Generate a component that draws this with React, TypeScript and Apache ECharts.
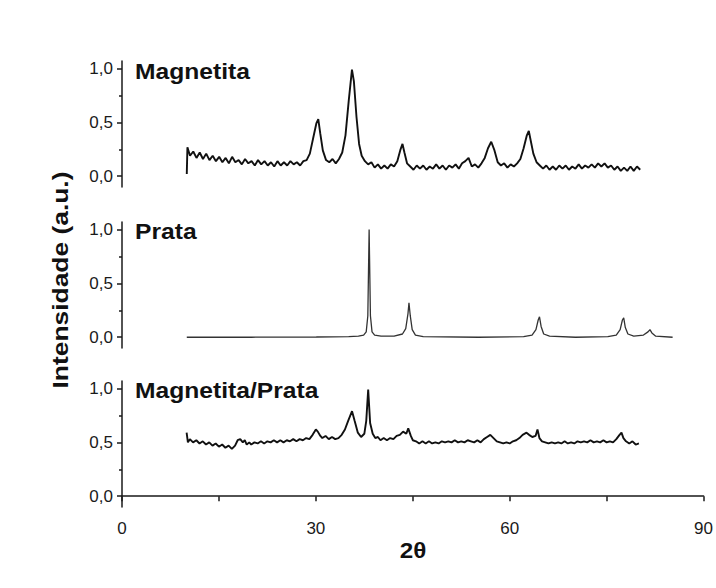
import React, { useEffect, useRef } from "react";
import * as echarts from "echarts";

// 2θ (degrees), normalized intensity
const magnetita: [number, number][] = [
  [10.0, 0.02], [10.1, 0.27], [10.5, 0.19], [11.0, 0.23], [11.5, 0.17], [12.0, 0.22], [12.5, 0.16],
  [13.0, 0.21], [13.5, 0.15], [14.0, 0.19], [14.5, 0.14], [15.0, 0.18], [15.5, 0.13], [16.0, 0.17],
  [16.5, 0.12], [17.0, 0.18], [17.5, 0.13], [18.0, 0.15], [18.5, 0.11], [19.0, 0.16], [19.5, 0.12],
  [20.0, 0.14], [20.5, 0.10], [21.0, 0.15], [21.5, 0.11], [22.0, 0.14], [22.5, 0.10], [23.0, 0.13],
  [23.5, 0.09], [24.0, 0.14], [24.5, 0.10], [25.0, 0.13], [25.5, 0.10], [26.0, 0.14], [26.5, 0.11],
  [27.0, 0.13], [27.5, 0.10], [28.0, 0.14], [28.5, 0.15], [29.0, 0.21], [29.5, 0.35], [30.0, 0.49],
  [30.3, 0.53], [30.6, 0.40], [31.0, 0.24], [31.5, 0.15], [32.0, 0.13], [32.5, 0.16], [33.0, 0.12],
  [33.5, 0.16], [34.0, 0.22], [34.5, 0.38], [35.0, 0.70], [35.5, 0.99], [35.8, 0.88], [36.2, 0.55],
  [36.6, 0.30], [37.0, 0.19], [37.5, 0.14], [38.0, 0.11], [38.5, 0.13], [39.0, 0.08], [39.5, 0.11],
  [40.0, 0.07], [40.5, 0.10], [41.0, 0.07], [41.5, 0.11], [42.0, 0.09], [42.5, 0.14], [43.0, 0.25],
  [43.3, 0.30], [43.6, 0.22], [44.0, 0.12], [44.5, 0.09], [45.0, 0.06], [45.5, 0.10], [46.0, 0.07],
  [46.5, 0.10], [47.0, 0.06], [47.5, 0.09], [48.0, 0.07], [48.5, 0.11], [49.0, 0.07], [49.5, 0.10],
  [50.0, 0.06], [50.5, 0.10], [51.0, 0.08], [51.5, 0.11], [52.0, 0.07], [52.5, 0.12], [53.0, 0.14],
  [53.5, 0.17], [54.0, 0.09], [54.5, 0.11], [55.0, 0.08], [55.5, 0.12], [56.0, 0.17], [56.5, 0.26],
  [57.0, 0.32], [57.5, 0.24], [58.0, 0.13], [58.5, 0.10], [59.0, 0.12], [59.5, 0.08], [60.0, 0.11],
  [60.5, 0.09], [61.0, 0.12], [61.5, 0.16], [62.0, 0.26], [62.5, 0.38], [62.8, 0.42], [63.1, 0.33],
  [63.5, 0.21], [64.0, 0.13], [64.5, 0.10], [65.0, 0.07], [65.5, 0.10], [66.0, 0.06], [66.5, 0.09],
  [67.0, 0.06], [67.5, 0.10], [68.0, 0.07], [68.5, 0.10], [69.0, 0.06], [69.5, 0.09], [70.0, 0.07],
  [70.5, 0.11], [71.0, 0.07], [71.5, 0.10], [72.0, 0.08], [72.5, 0.11], [73.0, 0.08], [73.5, 0.12],
  [74.0, 0.09], [74.5, 0.12], [75.0, 0.08], [75.5, 0.10], [76.0, 0.06], [76.5, 0.09], [77.0, 0.05],
  [77.5, 0.08], [78.0, 0.05], [78.5, 0.09], [79.0, 0.05], [79.5, 0.09], [80.0, 0.06],
];

const prata: [number, number][] = [
  [10.0, 0.0], [20.0, 0.0], [30.0, 0.002], [35.0, 0.005], [36.5, 0.01], [37.3, 0.02], [37.7, 0.05],
  [37.95, 0.2], [38.15, 1.0], [38.35, 0.2], [38.6, 0.05], [39.0, 0.02], [40.0, 0.01], [42.0, 0.01],
  [43.3, 0.03], [43.8, 0.08], [44.15, 0.22], [44.3, 0.32], [44.5, 0.2], [44.8, 0.07], [45.3, 0.02],
  [46.5, 0.005], [55.0, 0.0], [62.0, 0.005], [63.3, 0.02], [63.9, 0.07], [64.25, 0.16], [64.45, 0.19],
  [64.7, 0.1], [65.1, 0.03], [66.0, 0.01], [70.0, 0.0], [75.0, 0.005], [76.3, 0.02], [76.9, 0.07],
  [77.25, 0.16], [77.45, 0.18], [77.7, 0.09], [78.1, 0.03], [79.0, 0.01], [80.5, 0.02], [81.2, 0.05],
  [81.5, 0.07], [81.8, 0.04], [82.4, 0.01], [85.0, 0.0],
];

const magnetitaPrata: [number, number][] = [
  [10.0, 0.59], [10.2, 0.50], [10.5, 0.53], [11.0, 0.50], [11.5, 0.52], [12.0, 0.49], [12.5, 0.51],
  [13.0, 0.48], [13.5, 0.50], [14.0, 0.47], [14.5, 0.49], [15.0, 0.46], [15.5, 0.48], [16.0, 0.45],
  [16.5, 0.47], [17.0, 0.44], [17.5, 0.47], [17.9, 0.52], [18.3, 0.53], [18.7, 0.50], [19.0, 0.52],
  [19.3, 0.48], [19.7, 0.50], [20.0, 0.48], [20.5, 0.50], [21.0, 0.49], [21.5, 0.51], [22.0, 0.49],
  [22.5, 0.51], [23.0, 0.50], [23.5, 0.52], [24.0, 0.50], [24.5, 0.52], [25.0, 0.50], [25.5, 0.52],
  [26.0, 0.51], [26.5, 0.53], [27.0, 0.51], [27.5, 0.53], [28.0, 0.52], [28.5, 0.54], [29.0, 0.53],
  [29.5, 0.57], [30.0, 0.62], [30.3, 0.60], [30.7, 0.56], [31.0, 0.54], [31.5, 0.56], [32.0, 0.53],
  [32.5, 0.55], [33.0, 0.53], [33.5, 0.54], [34.0, 0.57], [34.5, 0.62], [35.0, 0.70], [35.6, 0.79],
  [36.0, 0.70], [36.5, 0.59], [37.0, 0.55], [37.5, 0.58], [37.8, 0.70], [38.1, 0.99], [38.4, 0.68],
  [38.8, 0.58], [39.2, 0.54], [39.6, 0.55], [40.0, 0.52], [40.5, 0.54], [41.0, 0.52], [41.5, 0.54],
  [42.0, 0.53], [42.5, 0.56], [43.0, 0.57], [43.5, 0.60], [44.0, 0.58], [44.3, 0.63], [44.7, 0.56],
  [45.0, 0.52], [45.5, 0.51], [46.0, 0.49], [46.5, 0.51], [47.0, 0.49], [47.5, 0.51], [48.0, 0.49],
  [48.5, 0.50], [49.0, 0.49], [49.5, 0.51], [50.0, 0.50], [50.5, 0.51], [51.0, 0.50], [51.5, 0.52],
  [52.0, 0.50], [52.5, 0.51], [53.0, 0.50], [53.5, 0.52], [54.0, 0.51], [54.5, 0.50], [55.0, 0.52],
  [55.5, 0.50], [56.0, 0.53], [56.5, 0.55], [57.0, 0.57], [57.5, 0.54], [58.0, 0.51], [58.5, 0.50],
  [59.0, 0.49], [59.5, 0.50], [60.0, 0.49], [60.5, 0.51], [61.0, 0.52], [61.5, 0.54], [62.0, 0.57],
  [62.6, 0.59], [63.0, 0.57], [63.5, 0.55], [64.0, 0.56], [64.3, 0.62], [64.6, 0.54], [65.0, 0.51],
  [65.5, 0.50], [66.0, 0.49], [66.5, 0.50], [67.0, 0.49], [67.5, 0.50], [68.0, 0.49], [68.5, 0.51],
  [69.0, 0.49], [69.5, 0.50], [70.0, 0.49], [70.5, 0.51], [71.0, 0.50], [71.5, 0.51], [72.0, 0.50],
  [72.5, 0.52], [73.0, 0.50], [73.5, 0.51], [74.0, 0.50], [74.5, 0.52], [75.0, 0.50], [75.5, 0.51],
  [76.0, 0.50], [76.5, 0.53], [77.0, 0.57], [77.3, 0.59], [77.6, 0.54], [78.0, 0.51], [78.5, 0.49],
  [79.0, 0.51], [79.5, 0.48], [80.0, 0.49],
];

const panelNames = ["Magnetita", "Prata", "Magnetita/Prata"];
const yMajorTicks = [0, 0.5, 1];
const yMinorTicks = [0.25, 0.75];
const xTicks = [0, 15, 30, 45, 60, 75, 90];
const xLabels = [0, 30, 60, 90];
const yAxisTitle = "Intensidade (a.u.)";
const xAxisTitle = "2θ";

const FONT = "'Liberation Sans', Arial, Helvetica, sans-serif";
const INK = "#1a1a1a";

export default function App() {
  const ref = useRef<HTMLDivElement>(null);
  useEffect(() => {
    if (!ref.current) return;
    const chart = echarts.init(ref.current, null, { renderer: "svg" });
    const tops = [61, 222, 381];
    const seriesData = [magnetita, prata, magnetitaPrata];
    const grids = tops.map((t) => ({ left: 122, right: 11, top: t, height: 126 }));
    const xAxes = tops.map((_, i) => ({
      type: "value",
      gridIndex: i,
      min: 0,
      max: 90,
      show: i === 2,
      axisLine: { show: true, lineStyle: { color: INK, width: 1.5 } },
      axisTick: { show: true, customValues: xTicks, length: 5, lineStyle: { color: INK, width: 1.5 } },
      axisLabel: {
        customValues: xLabels,
        margin: 13,
        fontSize: 17,
        fontFamily: FONT,
        color: INK,
      },
      splitLine: { show: false },
    }));
    const yAxes: any[] = [];
    tops.forEach((_, i) => {
      yAxes.push({
        type: "value",
        gridIndex: i,
        min: -0.1,
        max: 1.07,
        axisLine: { show: true, onZero: false, lineStyle: { color: INK, width: 1.5 } },
        axisTick: { show: true, customValues: yMajorTicks, length: 5, lineStyle: { color: INK, width: 1.5 } },
        axisLabel: {
          customValues: yMajorTicks,
          margin: 9,
          fontSize: 17,
          fontFamily: FONT,
          color: INK,
          formatter: (v: number) => v.toFixed(1).replace(".", ","),
        },
        splitLine: { show: false },
      });
      yAxes.push({
        type: "value",
        gridIndex: i,
        min: -0.1,
        max: 1.07,
        position: "left",
        axisLine: { show: false },
        axisTick: { show: true, customValues: yMinorTicks, length: 3, lineStyle: { color: INK, width: 1.5 } },
        axisLabel: { show: false },
        splitLine: { show: false },
      });
    });
    const series = seriesData.map((d, i) => ({
      type: "line",
      xAxisIndex: i,
      yAxisIndex: i * 2,
      data: d,
      showSymbol: false,
      symbol: "none",
      lineStyle: { color: i === 1 ? "#333" : "#111", width: i === 1 ? 1.3 : 1.9 },
    }));
    const labelYs = [71, 231, 390];
    chart.setOption({
      animation: false,
      backgroundColor: "#fff",
      grid: grids,
      xAxis: xAxes,
      yAxis: yAxes,
      series,
      graphic: [
        ...panelNames.map((n, i) => ({
          type: "text",
          x: 135,
          y: labelYs[i],
          scaleX: 1.12,
          style: { text: n, font: `bold 22px ${FONT}`, fill: "#111", textVerticalAlign: "middle" },
        })),
        {
          type: "text",
          x: 60,
          y: 280,
          rotation: Math.PI / 2,
          scaleX: 1.2,
          style: {
            text: yAxisTitle,
            font: `bold 22px ${FONT}`,
            fill: "#111",
            textAlign: "center",
            textVerticalAlign: "middle",
          },
        },
        {
          type: "text",
          x: 413,
          y: 550,
          scaleX: 1.1,
          style: {
            text: xAxisTitle,
            font: `bold 22px ${FONT}`,
            fill: "#111",
            textAlign: "center",
            textVerticalAlign: "middle",
          },
        },
      ],
    });
    return () => chart.dispose();
  }, []);
  return (
    <div
      ref={ref}
      style={{ position: "fixed", left: 0, top: 0, width: 716, height: 588, background: "#fff" }}
    />
  );
}
